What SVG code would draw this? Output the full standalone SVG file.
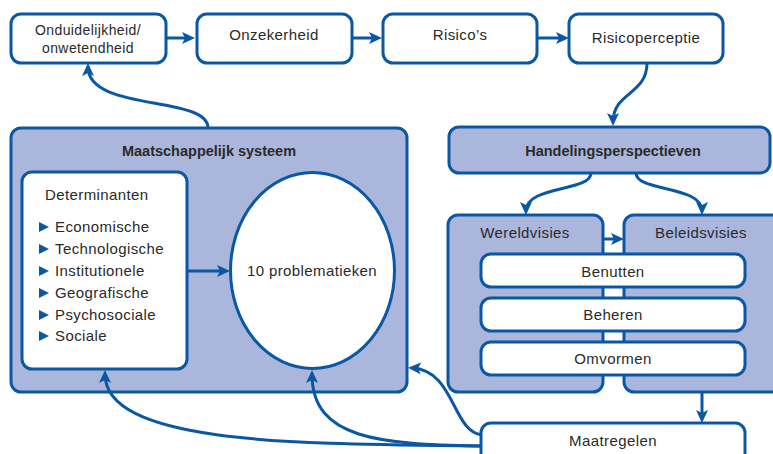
<svg xmlns="http://www.w3.org/2000/svg" width="773" height="454" viewBox="0 0 773 454">
<style>
.box{fill:#ffffff;stroke:#0a57a3;stroke-width:3}
.grp{fill:#aab6dc;stroke:#0a57a3;stroke-width:3}
.t{font-family:"Liberation Sans",Arial,sans-serif;font-size:15px;fill:#2a2a2a;letter-spacing:0.4px}
.c{text-anchor:middle}
.s{font-size:14px}
.b{font-weight:bold;font-size:14.5px;letter-spacing:0}
.conn path{fill:none;stroke:#0a57a3;stroke-width:3;marker-end:url(#ah)}
.bul{fill:#0a57a3}
</style>
<defs>
<marker id="ah" markerUnits="userSpaceOnUse" viewBox="0 0 13 12" refX="9" refY="6" markerWidth="13" markerHeight="12" orient="auto">
<path d="M0,0 L13,6 L0,12 L3,6 z" fill="#0a57a3"/>
</marker>
</defs>

<g id="onduidelijkheid">
<rect class="box" x="11" y="14" width="155" height="49" rx="10"/>
<text class="t c s" x="88" y="35">Onduidelijkheid/</text>
<text class="t c s" x="88" y="53">onwetendheid</text>
</g>
<g id="onzekerheid">
<rect class="box" x="197" y="14" width="155" height="49" rx="10"/>
<text class="t c" x="274" y="40">Onzekerheid</text>
</g>
<g id="risicos">
<rect class="box" x="383" y="14" width="154" height="49" rx="10"/>
<text class="t c" x="460" y="40">Risico’s</text>
</g>
<g id="risicoperceptie">
<rect class="box" x="569" y="14" width="154" height="49" rx="10"/>
<text class="t c" x="646" y="43">Risicoperceptie</text>
</g>

<g id="maatschappelijk">
<rect class="grp" x="11" y="128" width="396" height="264" rx="10"/>
<text class="t c b" x="209" y="156">Maatschappelijk systeem</text>
</g>
<g id="determinanten">
<rect class="box" x="22" y="172" width="165" height="197" rx="10"/>
<text class="t" x="45" y="200">Determinanten</text>
<polygon class="bul" points="39,222 49,227 39,232"/>
<polygon class="bul" points="39,244 49,249 39,254"/>
<polygon class="bul" points="39,266 49,271 39,276"/>
<polygon class="bul" points="39,288 49,293 39,298"/>
<polygon class="bul" points="39,310 49,315 39,320"/>
<polygon class="bul" points="39,331 49,336 39,341"/>
<text class="t" x="55" y="232">Economische</text>
<text class="t" x="55" y="254">Technologische</text>
<text class="t" x="55" y="276">Institutionele</text>
<text class="t" x="55" y="298">Geografische</text>
<text class="t" x="55" y="320">Psychosociale</text>
<text class="t" x="55" y="341">Sociale</text>
</g>
<g id="problematieken">
<ellipse class="box" cx="312.5" cy="270.5" rx="82" ry="98"/>
<text class="t c" x="312" y="276">10 problematieken</text>
</g>

<g id="handelingsperspectieven">
<rect class="grp" x="449" y="127" width="321" height="46" rx="10"/>
<text class="t c b" x="613" y="156">Handelingsperspectieven</text>
</g>
<g id="wereldvisies">
<rect class="grp" x="448" y="215" width="155" height="177" rx="10"/>
<text class="t c" x="525" y="238">Wereldvisies</text>
</g>
<g id="beleidsvisies">
<rect class="grp" x="624" y="215" width="160" height="177" rx="10"/>
<text class="t c" x="701" y="238">Beleidsvisies</text>
</g>
<g id="benutten">
<rect class="box" x="481" y="254" width="264" height="33" rx="10"/>
<text class="t c" x="613" y="277">Benutten</text>
</g>
<g id="beheren">
<rect class="box" x="481" y="298" width="264" height="33" rx="10"/>
<text class="t c" x="613" y="320">Beheren</text>
</g>
<g id="omvormen">
<rect class="box" x="481" y="342" width="264" height="33" rx="10"/>
<text class="t c" x="613" y="364">Omvormen</text>
</g>
<g id="maatregelen">
<rect class="box" x="481" y="423" width="264" height="45" rx="10"/>
<text class="t c" x="613" y="446">Maatregelen</text>
</g>

<g id="connectors" class="conn">
<path d="M166,38 H191"/>
<path d="M352,38 H378"/>
<path d="M537,38 H565"/>
<path d="M647,63 C647,95 613,92 613,122"/>
<path d="M208,128 C208,95 88,112 88,67"/>
<path d="M591,173 C591,192 526,185 526,211"/>
<path d="M636,173 C636,192 702,185 702,211"/>
<path d="M603,239 H620"/>
<path d="M702,392 V419"/>
<path d="M187,271 H226"/>
<path d="M482,435 C452,432 455,370 412,368"/>
<path d="M481,446 C300,444 105,445 105,374"/>
<path d="M481,446 C380,444 312,440 312,374"/>
</g>
</svg>
